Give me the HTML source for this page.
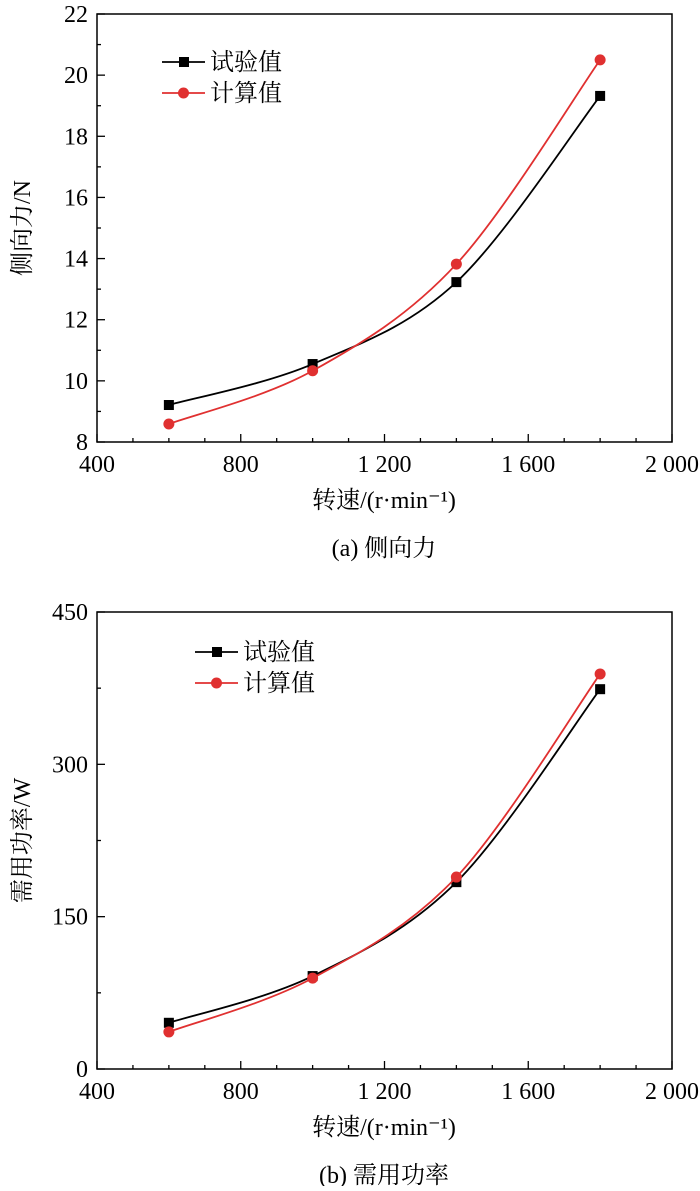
<!DOCTYPE html>
<html><head><meta charset="utf-8"><style>
body{margin:0;background:#fff}
svg text{font-family:"Liberation Serif","Noto Serif CJK SC",serif;fill:#000}
</style></head><body>
<svg id="s" width="700" height="1186" xmlns="http://www.w3.org/2000/svg"></svg>
<script>
const xCats=[600,1000,1400,1800];
const xTicks=[400,800,1200,1600,2000];
const xTickLabels=["400","800","1 200","1 600","2 000"];
const aTest=[9.21,10.55,13.23,19.32];
const aCalc=[8.59,10.33,13.82,20.5];
const aYTicks=[8,10,12,14,16,18,20,22];
const bTest=[45.5,91.5,184,374];
const bCalc=[36.5,89.5,189,389];
const bYTicks=[0,150,300,450];
const NS="http://www.w3.org/2000/svg";
const svg=document.getElementById('s');
function el(t,a,p){const e=document.createElementNS(NS,t);for(const k in a)e.setAttribute(k,a[k]);(p||svg).appendChild(e);return e;}
function spline(pts){let d=`M${pts[0][0]},${pts[0][1]}`;for(let i=0;i<pts.length-1;i++){const p0=pts[i-1]||pts[i],p1=pts[i],p2=pts[i+1],p3=pts[i+2]||p2;
const c1=[p1[0]+(p2[0]-p0[0])/6,p1[1]+(p2[1]-p0[1])/6],c2=[p2[0]-(p3[0]-p1[0])/6,p2[1]-(p3[1]-p1[1])/6];
d+=` C${c1[0]},${c1[1]} ${c2[0]},${c2[1]} ${p2[0]},${p2[1]}`;}return d;}
function chart(o){
const g=el('g',{});  
const L=97,R=672,T=o.top,B=o.bottom;
const sx=v=>L+(v-400)/1600*(R-L), sy=v=>B-(v-o.ymin)/(o.ymax-o.ymin)*(B-T);
const fr=el('rect',{x:L,y:T,width:R-L,height:B-T,fill:'none',stroke:'#000','stroke-width':1.5},g);

for(let v=400;v<=2000;v+=100){const x=sx(v);el('line',{x1:x,x2:x,y1:B,y2:B-(v%400?4:8),stroke:'#000','stroke-width':1.3},g);}
xTicks.forEach((v,i)=>{const t=el('text',{x:sx(v),y:B+30,'font-size':24,'text-anchor':'middle'},g);t.textContent=xTickLabels[i];});
const yt=o.yticks;const step=yt[1]-yt[0];
for(let v=o.ymin;v<=o.ymax+1e-9;v+=step/2){const y=sy(v);const maj=Math.abs(((v-o.ymin)/step)%1)<1e-6;el('line',{x1:L,x2:L+(maj?8:4),y1:y,y2:y,stroke:'#000','stroke-width':1.3},g);}
yt.forEach(v=>{const t=el('text',{x:L-9,y:sy(v)+8,'font-size':24,'text-anchor':'end'},g);t.textContent=v;});
const xt=el('text',{x:384,y:B+66,'font-size':24,'text-anchor':'middle'},g);xt.textContent='转速/(r·min⁻¹)';

const cap=el('text',{x:384,y:B+114,'font-size':24,'text-anchor':'middle'},g);cap.textContent=o.caption;

const ytl=el('text',{x:0,y:0,'font-size':24,'text-anchor':'middle',transform:`translate(30,${(T+B)/2}) rotate(-90)`},g);ytl.textContent=o.ytitle;

[[o.test,'#000','sq','test-series'],[o.calc,'#e03030','ci','calc-series']].forEach(([d,c,m,n])=>{
const pts=xCats.map((x,i)=>[sx(x),sy(d[i])]);
const p=el('path',{d:spline(pts),fill:'none',stroke:c,'stroke-width':1.8},g);
pts.forEach(q=>{let mk;if(m=='sq')mk=el('rect',{x:q[0]-5,y:q[1]-5,width:10,height:10,fill:c},g);else mk=el('circle',{cx:q[0],cy:q[1],r:5.5,fill:c},g);
});});
const lx=o.lx,ly=o.ly;
[['试验值','#000','sq',0],['计算值','#e03030','ci',31]].forEach(([t,c,m,dy])=>{
const y=ly+dy;el('line',{x1:lx,x2:lx+43,y1:y,y2:y,stroke:c,'stroke-width':1.8},g);
if(m=='sq')el('rect',{x:lx+17,y:y-5,width:10,height:10,fill:c},g);else el('circle',{cx:lx+21.5,cy:y,r:5.5,fill:c},g);
const tx=el('text',{x:lx+48,y:y+8,'font-size':24},g);tx.textContent=t;});
}
chart({name:'chart-side-force',top:14,bottom:442,ymin:8,ymax:22,yticks:aYTicks,test:aTest,calc:aCalc,caption:'(a) 侧向力',ytitle:'侧向力/N',lx:162,ly:62});
chart({name:'chart-power',top:612,bottom:1069,ymin:0,ymax:450,yticks:bYTicks,test:bTest,calc:bCalc,caption:'(b) 需用功率',ytitle:'需用功率/W',lx:195,ly:652});
</script>
</body></html>
